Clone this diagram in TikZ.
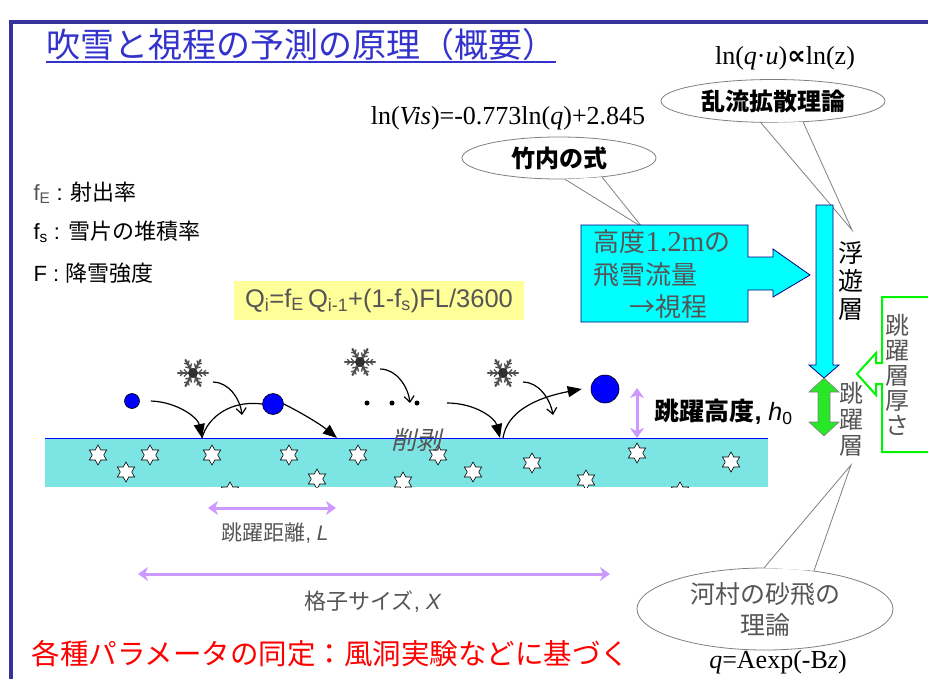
\documentclass[tikz,border=0pt]{standalone}
\usepackage{fontspec}
\setmainfont{Liberation Sans}
\newfontfamily\jp{Noto Sans CJK JP}
\newfontfamily\jpsl[FakeSlant=0.22]{Noto Sans CJK JP}
\newfontfamily\tms{Liberation Serif}
\newfontfamily\dvs{DejaVu Sans}
\usetikzlibrary{arrows.meta, positioning, calc, shapes.geometric}
\definecolor{framebl}{RGB}{51,51,153}
\definecolor{titlebl}{RGB}{51,51,204}
\definecolor{txtgray}{RGB}{85,85,85}
\definecolor{snowcy}{RGB}{125,228,228}
\definecolor{boxcy}{RGB}{0,255,255}
\definecolor{edgenv}{RGB}{0,0,128}
\definecolor{lilac}{RGB}{204,153,255}
\definecolor{saltgreen}{RGB}{40,230,40}
\definecolor{limeedge}{RGB}{0,245,0}
\definecolor{formyel}{RGB}{255,255,153}
\definecolor{flakegr}{RGB}{80,80,80}

\newcommand{\pxsize}[1]{\fontsize{#1}{#1}\selectfont}
% snowflake: name, position
\newcommand{\snowflake}[2]{%
  \coordinate (#1) at (#2);
  \foreach \a in {0,60,...,300}{
    \draw[flakegr, line width=2.2pt, line cap=round] (#1) -- ++(\a:15);
    \draw[flakegr, line width=1.4pt] ($(#1)+(\a:5.5)$) -- ++(\a+45:5);
    \draw[flakegr, line width=1.4pt] ($(#1)+(\a:5.5)$) -- ++(\a-45:5);
    \draw[flakegr, line width=1.2pt] ($(#1)+(\a:10)$) -- ++(\a+45:4);
    \draw[flakegr, line width=1.2pt] ($(#1)+(\a:10)$) -- ++(\a-45:4);
  }
  \fill[flakegr!60!black] (#1) circle (5);
}

\tikzset{
  bubble/.style={ellipse, draw=gray, fill=white, line width=0.8pt, inner sep=0pt},
  tail/.style={draw=gray, line width=0.8pt},
  grain/.style={circle, draw=black, fill=blue, inner sep=0pt, line width=0.6pt},
  flake6/.style={star, star points=6, star point ratio=1.75, draw=black, fill=white,
                 minimum size=20pt, inner sep=0pt, line width=0.6pt},
  hop/.style={line width=1.2pt, -{Triangle[length=14pt,width=11pt]}},
  fall/.style={line width=1.2pt, -{Straight Barb[length=6pt,width=10pt]}},
  span/.style={lilac, line width=3pt,
               {Stealth[length=10pt,width=14pt,inset=3pt]}-{Stealth[length=10pt,width=14pt,inset=3pt]}},
}

\begin{document}
\begin{tikzpicture}[x=1pt, y=-1pt]
    \useasboundingbox (0,0) rectangle (928,679);
    % ---- CORNICE ----
    \draw[framebl, line width=3.5pt] (11,679) -- (11,22) -- (928,22);

    % ---- TITOLO ----
    \node[anchor=base west, inner sep=0pt, text=titlebl, font=\jp\pxsize{34}] (title) at (46,58)
        {吹雪と視程の予測の原理（概要）};
    \draw[titlebl, line width=2pt] ([yshift=-4pt]title.base west) -- ([yshift=-4pt]title.base east);

    % ---- LEGENDA ----
    \node[anchor=west, font=\pxsize{22}] (fE) at (30,193)
        {\textcolor{txtgray}{f\textsubscript{E}} : {\jp 射出率}};
    \node[anchor=west, font=\pxsize{22}] (fs) at (30,232)
        {f\textsubscript{s} : {\jp 雪片の堆積率}};
    \node[anchor=west, font=\pxsize{22}] (fF) at (30,273)
        {F : {\jp 降雪強度}};

    % ---- FORMULA ----
    \node[fill=formyel, minimum width=290pt, minimum height=39pt, inner sep=0pt,
          text=txtgray, font=\pxsize{25.5}] (qbox) at (379,300.5)
        {Q\textsubscript{i}=f\textsubscript{E}\,Q\textsubscript{i-1}+(1-f\textsubscript{s})FL/3600};

    % ---- FUMETTI ----
    \node[font=\tms\pxsize{26}] (lnqu) at (785,58)
        {ln(\textit{q}·\textit{u}){\dvs\bfseries ∝}ln(z)};
    \node[bubble, minimum width=224pt, minimum height=43pt, font=\jp\bfseries\pxsize{24}] (rann) at (773,101)
        {乱流拡散理論};
    \coordinate (tipR) at (852,230);
    \fill[white] (rann.241) -- (tipR) -- (rann.325) -- cycle;
    \draw[tail] (rann.241) -- (tipR) -- (rann.325);

    \node[font=\tms\pxsize{26}] (lnvis) at (508,118)
        {ln(\textit{Vis})=-0.773ln(\textit{q})+2.845};
    \node[bubble, minimum width=194pt, minimum height=42pt, font=\jp\bfseries\pxsize{24}] (take) at (559,158)
        {竹内の式};
    \coordinate (tipT) at (642,227);
    \fill[white] (take.286) -- (tipT) -- (take.336) -- cycle;
    \draw[tail] (take.286) -- (tipT) -- (take.336);

    \node[bubble, minimum width=256pt, minimum height=82pt] (kawa) at (765,609) {};
    \node[align=center, text=txtgray, font=\jp\fontsize{25}{31}\selectfont] (kawatxt) at (kawa)
        {河村の砂飛の\\理論};
    \coordinate (tipK) at (851,465);
    \fill[white] (kawa.91) -- (tipK) -- (kawa.38) -- cycle;
    \draw[tail] (kawa.91) -- (tipK) -- (kawa.38);
    \node[font=\tms\pxsize{26}] (qexp) at (778,662) {\textit{q}=Aexp(-B\textit{z})};

    % ---- FLUSSO A 1.2 m ----
    \draw[fill=boxcy, draw=edgenv, line width=0.8pt]
        (581,225) -- (748,225) -- (748,257) -- (773,257) -- (773,249) -- (810,275)
        -- (773,297) -- (773,290) -- (748,290) -- (748,322) -- (581,322) -- cycle;
    \node[anchor=west, text=txtgray, font=\jp\pxsize{26}] (flux1) at (590,242) {高度{\tms\pxsize{29}1.2m}の};
    \node[anchor=west, text=txtgray, font=\jp\pxsize{26}] (flux2) at (590,275) {飛雪流量};
    \node[anchor=west, text=txtgray, font=\jp\pxsize{26}] (flux3) at (626,307) {→視程};

    % ---- STRATI ----
    \draw[fill=boxcy, draw=edgenv, line width=0.8pt]
        (816,205) -- (833,205) -- (833,365) -- (839,365) -- (824,378) -- (809,365) -- (816,365) -- cycle;
    \node[align=center, font=\jp\fontsize{25}{28}\selectfont] (susp) at (851,281) {浮\\遊\\層};
    \draw[fill=saltgreen, draw=gray, line width=0.6pt]
        (824,378) -- (839,392) -- (830,392) -- (830,422) -- (839,422) -- (824,436)
        -- (809,422) -- (818,422) -- (818,392) -- (809,392) -- cycle;
    \node[align=center, text=txtgray, font=\jp\fontsize{24}{26}\selectfont] (salt) at (851,419) {跳\\躍\\層};
    \draw[limeedge, line width=2pt]
        (935,297) -- (882,297) -- (882,363) -- (876,363) -- (876,353) -- (857,374)
        -- (876,395) -- (876,384) -- (882,384) -- (882,452) -- (935,452);
    \node[align=center, text=txtgray, font=\jp\fontsize{24}{25}\selectfont] (thick) at (897,375)
        {跳\\躍\\層\\厚\\さ};

    % ---- MANTO NEVOSO ----
    \fill[snowcy] (45,438) rectangle (768,487);
    \begin{scope}
        \clip (45,438) rectangle (768,487);
        \foreach \x/\y [count=\i] in {98/455,150/455,126/472,212/455,230/492,289/455,
                317/479,358/455,403/482,438/455,473/472,532/463,586/480,637/453,680/492,731/462}
            \node[flake6] (star-\i) at (\x,\y) {};
    \end{scope}
    \draw[blue, line width=1pt] (45,438) -- (768,438);
    \node[text=txtgray, font=\jpsl\pxsize{25}] (erosion) at (416,440) {削剥};

    % ---- PARTICELLE ----
    \node[grain, minimum size=15pt] (g1) at (132,401) {};
    \node[grain, minimum size=21pt] (g2) at (273,404) {};
    \node[grain, minimum size=28pt] (g3) at (605,389) {};
    \node[circle, fill=black, inner sep=0pt, minimum size=5pt] (d1) at (367,403) {};
    \node[circle, fill=black, inner sep=0pt, minimum size=5pt] (d2) at (392,403) {};
    \node[circle, fill=black, inner sep=0pt, minimum size=5pt] (d3) at (417,403) {};
    \snowflake{f1}{193,373}
    \snowflake{f2}{360,362}
    \snowflake{f3}{503,373}

    \coordinate (s1) at (202,438);
    \coordinate (s2) at (337,438);
    \coordinate (s3) at (500,438);
    \coordinate (s4) at (503,438);

    % ---- TRAIETTORIE ----
    \draw[hop] ([xshift=11pt]g1.east) .. controls (178,402) and (198,418) .. (s1);
    \draw[line width=1.2pt] (s1) .. controls (208,416) and (232,400) .. (g2.west);
    \draw[hop] (g2.east) .. controls (300,412) and (320,424) .. (s2);
    \draw[hop] ([xshift=30pt]d3.center) .. controls (475,403) and (495,418) .. (s3);
    \draw[hop] (s4) .. controls (507,412) and (535,398) .. ([xshift=-9pt]g3.west);
    \draw[fall] ($(f1)+(20,9)$) .. controls (228,382) and (240,398) .. ($(f1)+(49,42)$);
    \draw[fall] ($(f2)+(20,7)$) .. controls (396,369) and (408,386) .. ($(f2)+(50,41)$);
    \draw[fall] ($(f3)+(20,9)$) .. controls (538,382) and (550,398) .. ($(f3)+(50,42)$);

    % ---- QUOTE ----
    \coordinate (hT) at (637,388);
    \coordinate (hB) at (637,438);
    \draw[span] (hT) -- (hB);
    \node[anchor=west, font=\pxsize{25}] (hlab) at (651,412)
        {{\jp\bfseries 跳躍高度}\textbf{,} \textit{h}\textsubscript{0}};

    \coordinate (L1) at (208,508);
    \coordinate (L2) at (336,508);
    \draw[span] (L1) -- (L2);
    \node[text=txtgray, font=\pxsize{21}] (Llab) at (275,533) {{\jp 跳躍距離}, \textit{L}};

    \coordinate (X1) at (138,574);
    \coordinate (X2) at (610,574);
    \draw[span] (X1) -- (X2);
    \node[text=txtgray, font=\pxsize{22}] (Xlab) at (373,602) {{\jp 格子サイズ}, \textit{X}};

    % ---- NOTA ----
    \node[anchor=west, text=red, font=\jp\pxsize{28.5}] (note) at (28,654)
        {各種パラメータの同定：風洞実験などに基づく};
\end{tikzpicture}
\end{document}
